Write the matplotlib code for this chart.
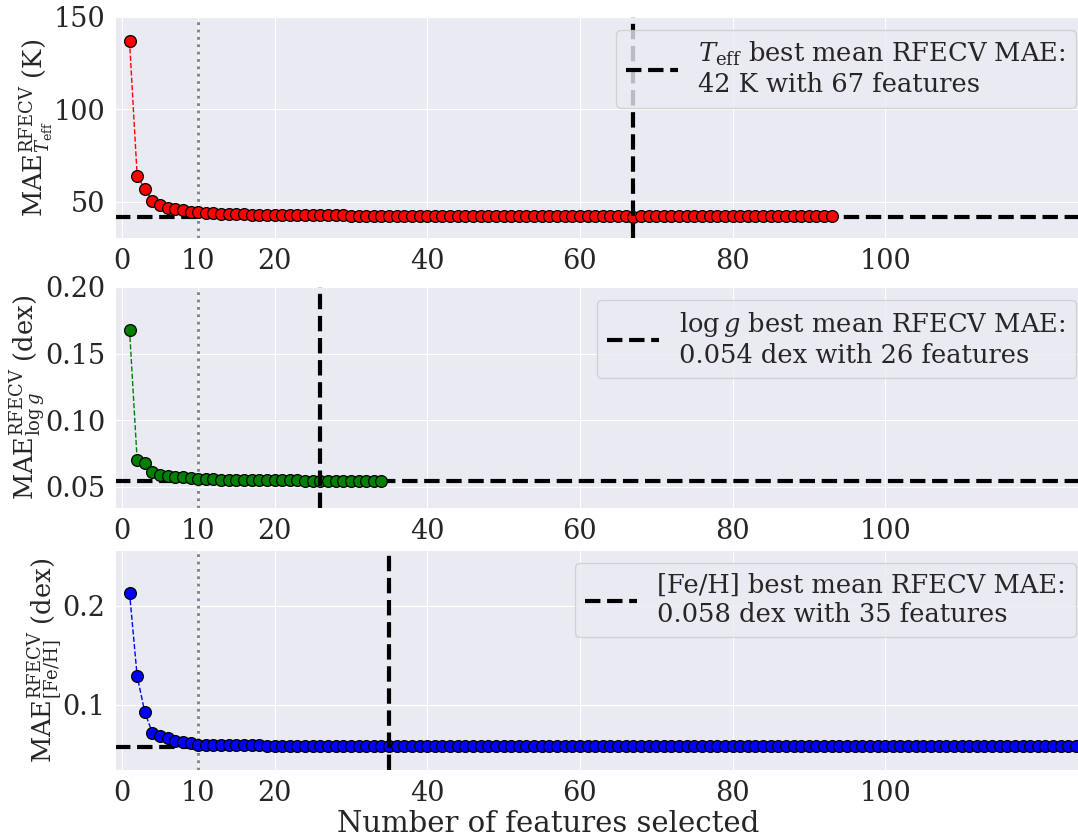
import numpy as np
import matplotlib
matplotlib.use("Agg")
import matplotlib.pyplot as plt
import seaborn as sns

sns.set_style("darkgrid")
plt.rcParams["font.family"] = "serif"
plt.rcParams["font.serif"] = ["DejaVu Serif"]
plt.rcParams["mathtext.fontset"] = "dejavuserif"

# mean RFECV MAE vs number of selected features
teff_mae = [137, 64, 57, 50.5, 48, 46.5, 46, 45.5, 44.6, 44.3,
            44.0, 43.8, 43.6, 43.4, 43.3, 43.2, 43.1, 43.0, 43.0, 42.9,
            42.9, 42.8, 42.8, 42.7, 42.7, 42.7, 42.6, 42.6, 42.6, 42.5,
            42.5, 42.5, 42.5, 42.4, 42.4, 42.4, 42.4, 42.4, 42.3, 42.3,
            42.3, 42.3, 42.3, 42.3, 42.2, 42.2, 42.2, 42.2, 42.2, 42.2,
            42.2, 42.2, 42.1, 42.1, 42.1, 42.1, 42.1, 42.1, 42.1, 42.1,
            42.1, 42.1, 42.1, 42.1, 42.1, 42.1, 42.0, 42.1, 42.1, 42.1,
            42.1, 42.1, 42.1, 42.1, 42.1, 42.1, 42.1, 42.2, 42.2, 42.2,
            42.2, 42.2, 42.2, 42.2, 42.2, 42.2, 42.2, 42.2, 42.2, 42.2,
            42.2, 42.2, 42.2]
logg_mae = [0.168, 0.070, 0.068, 0.061, 0.059, 0.058, 0.0575, 0.0572, 0.0563, 0.0561,
            0.0556, 0.0555, 0.0554, 0.0553, 0.0552, 0.0551, 0.0551, 0.0550, 0.0550, 0.0549,
            0.0548, 0.0548, 0.0547, 0.0546, 0.0545, 0.0540, 0.0546, 0.0546, 0.0546, 0.0545,
            0.0545, 0.0546, 0.0546, 0.0545]
feh_mae = [0.213, 0.129, 0.093, 0.0715, 0.069, 0.0665, 0.064, 0.063, 0.062, 0.0600,
           0.0598, 0.0597, 0.0596, 0.0595, 0.0594, 0.0594, 0.0593, 0.0593, 0.0592, 0.0592,
           0.0591, 0.0591, 0.0590, 0.0590, 0.0590, 0.0589, 0.0589, 0.0589, 0.0588, 0.0588,
           0.0588, 0.0588, 0.0587, 0.0587, 0.0582, 0.0587, 0.0587, 0.0587, 0.0587, 0.0587,
           0.0587, 0.0587, 0.0587, 0.0587, 0.0587, 0.0587, 0.0587, 0.0587, 0.0587, 0.0587,
           0.0587, 0.0587, 0.0587, 0.0587, 0.0587, 0.0587, 0.0587, 0.0587, 0.0587, 0.0587,
           0.0587, 0.0587, 0.0587, 0.0587, 0.0587, 0.0587, 0.0587, 0.0587, 0.0587, 0.0587,
           0.0588, 0.0588, 0.0588, 0.0588, 0.0588, 0.0588, 0.0588, 0.0588, 0.0588, 0.0588,
           0.0588, 0.0588, 0.0588, 0.0588, 0.0588, 0.0588, 0.0588, 0.0588, 0.0588, 0.0588,
           0.0588, 0.0588, 0.0588, 0.0588, 0.0588, 0.0588, 0.0588, 0.0588, 0.0588, 0.0588,
           0.0588, 0.0588, 0.0588, 0.0588, 0.0588, 0.0588, 0.0588, 0.0588, 0.0588, 0.0588,
           0.0588, 0.0588, 0.0588, 0.0588, 0.0588, 0.0588, 0.0588, 0.0588, 0.0588, 0.0588,
           0.0588, 0.0588, 0.0588, 0.0588, 0.0588]

best_mae = [42, 0.054, 0.058]
best_n = [67, 26, 35]
colors = ["red", "green", "blue"]
ylabels = [r"MAE$^{\rm RFECV}_{T_{\rm eff}}$ (K)",
           r"MAE$^{\rm RFECV}_{\log g}$ (dex)",
           r"MAE$^{\rm RFECV}_{\rm [Fe/H]}$ (dex)"]
labels = [r"$T_{\rm eff}$ best mean RFECV MAE:" + "\n42 K with 67 features",
          r"$\log g$ best mean RFECV MAE:" + "\n0.054 dex with 26 features",
          "[Fe/H] best mean RFECV MAE:\n0.058 dex with 35 features"]
ylims = [(30.4, 150), (0.034, 0.2), (0.0345, 0.256)]
yticks = [[50, 100, 150], [0.05, 0.10, 0.15, 0.20], [0.1, 0.2]]
xticks = [0, 10, 20, 40, 60, 80, 100]

fig = plt.figure(figsize=(10.78, 8.36), dpi=100)
# axes run a little past the right edge of the figure, as in the original crop
positions = [[0.1067, 0.7153, 0.9035, 0.2644],
             [0.1067, 0.3923, 0.9035, 0.2644],
             [0.1067, 0.0789, 0.9035, 0.2632]]

for i, mae in enumerate([teff_mae, logg_mae, feh_mae]):
    ax = fig.add_axes(positions[i])
    n = np.arange(1, len(mae) + 1)
    ax.axhline(best_mae[i], color="k", ls="--", lw=3, zorder=1, label=labels[i])
    ax.plot(n, mae, "o--", color=colors[i], mec="k", mew=0.9, ms=8.5, lw=1, zorder=2)
    ax.axvline(best_n[i], color="k", ls="--", lw=3, zorder=3)
    ax.axvline(10, color="grey", ls=":", lw=2, zorder=1)
    ax.set_xlim(-0.9, 126.7)
    ax.set_ylim(ylims[i])
    ax.set_xticks(xticks)
    ax.set_yticks(yticks[i])
    if i == 1:
        ax.set_yticklabels(["0.05", "0.10", "0.15", "0.20"])
    ax.tick_params(labelsize=19.5)
    ax.set_ylabel(ylabels[i], fontsize=18.5, labelpad=-2)
    ax.legend(loc="upper right", fontsize=18.5, handlelength=2.0)

ax.set_xlabel("Number of features selected", fontsize=21)
ax.xaxis.set_label_coords(0.4446, -0.18)

plt.savefig("out.png", dpi=100)
